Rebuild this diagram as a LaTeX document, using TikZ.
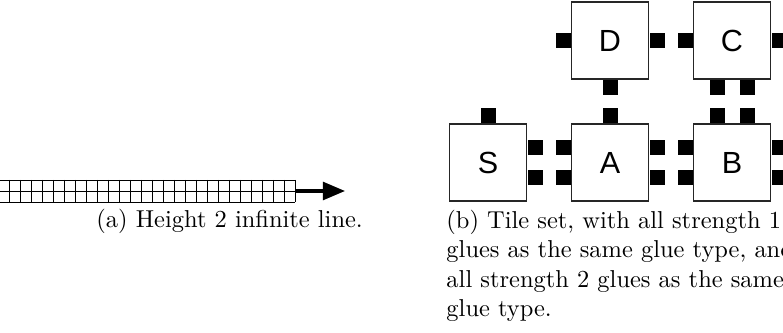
\documentclass[tikz,border=0pt]{standalone}
\usepackage{fontspec}
\newfontfamily\tilefont{Liberation Sans}
\usetikzlibrary{arrows.meta}
\begin{document}
\begin{tikzpicture}[x=0.4253pt, y=-0.4253pt]

\tikzstyle{tile}=[rectangle, draw=black!85, line width=0.45pt, fill=white, minimum size=32.75pt, inner sep=0pt, font=\tilefont\fontsize{13}{15}\selectfont]
\tikzstyle{glue}=[rectangle, fill=black, minimum size=6.38pt, inner sep=0pt]
\tikzstyle{caption}=[inner sep=0pt, align=left, font=\fontsize{10.4}{12.5}\selectfont]
\tikzstyle{arrow}=[-{Triangle[length=9.4pt, width=7.6pt]}, line width=1.3pt]

\clip (0,0) rectangle (783,333);

% height 2 line
\foreach \i in {0,...,27}
  \draw[line width=0.4pt] (295-11*\i,180) -- (295-11*\i,202);
\foreach \j in {180,191,202}
  \draw[line width=0.4pt] (-2,\j) -- (295,\j);
\coordinate (lineend) at (295,191);
\coordinate (tip) at (345,191);
\draw [arrow] (lineend) -- (tip);

\node (capa) [caption, anchor=base west] at (96,228) {(a) Height 2 infinite line.};

% tile set
\node (D) [tile] at (610,40.5)  {D};
\node (C) [tile] at (732,40.5)  {C};
\node (S) [tile] at (488,162.5) {S};
\node (A) [tile] at (610,162.5) {A};
\node (B) [tile] at (732,162.5) {B};

\node (Sn)  [glue, anchor=south] at (S.north) {};
\node (Se1) [glue, anchor=west] at ([yshift=6.38pt]S.east) {};
\node (Se2) [glue, anchor=west] at ([yshift=-6.38pt]S.east) {};

\node (An)  [glue, anchor=south] at (A.north) {};
\node (Aw1) [glue, anchor=east] at ([yshift=6.38pt]A.west) {};
\node (Aw2) [glue, anchor=east] at ([yshift=-6.38pt]A.west) {};
\node (Ae1) [glue, anchor=west] at ([yshift=6.38pt]A.east) {};
\node (Ae2) [glue, anchor=west] at ([yshift=-6.38pt]A.east) {};

\node (Bn1) [glue, anchor=south] at ([xshift=-6.38pt]B.north) {};
\node (Bn2) [glue, anchor=south] at ([xshift=6.38pt]B.north) {};
\node (Bw1) [glue, anchor=east] at ([yshift=6.38pt]B.west) {};
\node (Bw2) [glue, anchor=east] at ([yshift=-6.38pt]B.west) {};
\node (Be1) [glue, anchor=west] at ([yshift=6.38pt]B.east) {};
\node (Be2) [glue, anchor=west] at ([yshift=-6.38pt]B.east) {};

\node (Dw) [glue, anchor=east]  at (D.west) {};
\node (De) [glue, anchor=west]  at (D.east) {};
\node (Ds) [glue, anchor=north] at (D.south) {};

\node (Cw)  [glue, anchor=east]  at (C.west) {};
\node (Ce)  [glue, anchor=west]  at (C.east) {};
\node (Cs1) [glue, anchor=north] at ([xshift=-6.38pt]C.south) {};
\node (Cs2) [glue, anchor=north] at ([xshift=6.38pt]C.south) {};

\node (capb) [caption, anchor=north west] at (446,209.7) {(b) Tile set, with all strength 1\\glues as the same glue type, and\\all strength 2 glues as the same\\glue type.};

\end{tikzpicture}
\end{document}
